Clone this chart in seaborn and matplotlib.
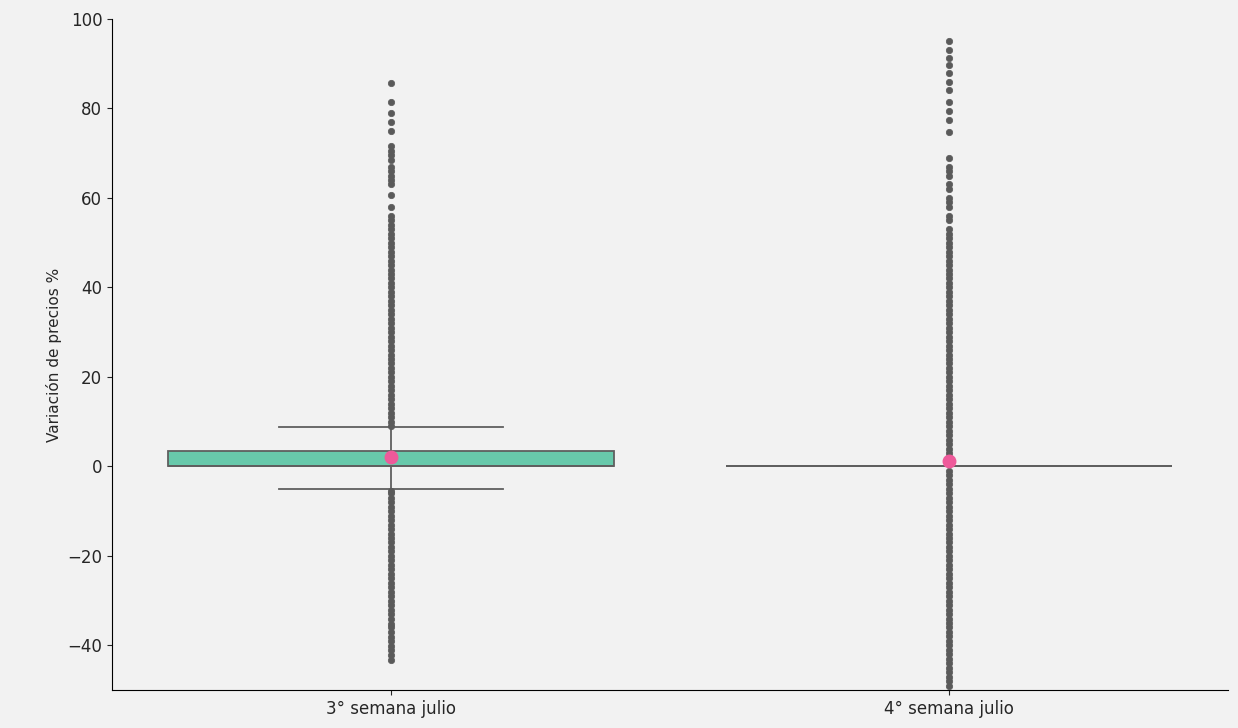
import numpy as np
import pandas as pd
import matplotlib
matplotlib.use("Agg")
import matplotlib.pyplot as plt
import seaborn as sns

# categories
semanas = ["3° semana julio", "4° semana julio"]

# 3rd week: core values (with counts) and outliers
core_3_vals = [-5.1, -2.5, 0.0, 1.5, 3.5, 6.0, 8.7]
core_3_counts = [1, 100, 650, 100, 200, 50, 1]
out_3_neg = [-43.3, -42.2, -41.0, -40.1, -39.0, -38.2, -37.1, -36.0, -35.2, -34.0,
             -33, -32, -31, -30, -29, -28, -27, -26, -25, -24, -23, -22, -21, -20,
             -19, -18, -17, -16, -15, -14, -13, -12, -11, -10, -9, -8, -7, -6, -5.4]
out_3_pos = [9, 10, 11, 12, 13, 14, 15, 16, 17, 18, 19, 20, 21, 22, 23, 24, 25, 26,
             27, 28, 29, 30, 31, 32, 33, 34, 35, 36, 37, 38, 39, 40, 41, 42, 43, 44,
             45, 46, 47, 48, 49, 50, 51, 52, 53, 54, 55, 56,
             58, 60.6, 63, 64, 65, 66, 67, 68.5, 69.5, 70.5, 71.5, 75, 77, 78.9, 81.5, 85.7]

# 4th week: box collapses on zero, everything else is an outlier
core_4_vals = [0.0]
core_4_counts = [1200]
out_4_neg = [-58, -52, -49, -48, -47, -46, -45, -44, -43, -42, -41, -40, -39, -38,
             -37, -36, -35, -34, -33, -32, -31, -30, -29, -28, -27, -26, -25, -24,
             -23, -22, -21, -20, -19, -18, -17, -16, -15, -14, -13, -12, -11, -10,
             -9, -8, -7, -6, -5, -4, -3, -2, -1]
out_4_pos = [1, 2, 3, 4, 5, 6, 7, 8, 9, 10, 11, 12, 13, 14, 15, 16, 17, 18, 19, 20,
             21, 22, 23, 24, 25, 26, 27, 28, 29, 30, 31, 32, 33, 34, 35, 36, 37, 38,
             39, 40, 41, 42, 43, 44, 45, 46, 47, 48, 49, 50, 51, 52, 53,
             55, 56, 58, 59, 60, 62, 63, 65, 66, 67, 69,
             74.7, 77.5, 79.5, 81.4, 84.1, 86, 87.9, 89.7, 91.3, 93, 95]

sem3 = np.concatenate([np.repeat(core_3_vals, core_3_counts), out_3_neg, out_3_pos])
sem4 = np.concatenate([np.repeat(core_4_vals, core_4_counts), out_4_neg, out_4_pos])

df = pd.DataFrame({
    "semana": [semanas[0]] * len(sem3) + [semanas[1]] * len(sem4),
    "variacion": np.concatenate([sem3, sem4]),
})

bg = "#f2f2f2"
plt.rcParams["font.family"] = "DejaVu Sans"
plt.rcParams["figure.facecolor"] = bg
plt.rcParams["axes.facecolor"] = bg
plt.rcParams["text.color"] = "#262626"
plt.rcParams["axes.labelcolor"] = "#262626"
plt.rcParams["xtick.color"] = "#262626"
plt.rcParams["ytick.color"] = "#262626"

fig, ax = plt.subplots(figsize=(12.38, 7.28), dpi=100)
fig.subplots_adjust(left=0.0905, right=0.992, top=0.974, bottom=0.052)

sns.boxplot(data=df, x="semana", y="variacion", ax=ax,
            color="#68c9ab", saturation=1, width=0.8, linewidth=1.3,
            linecolor="#5f5f5f", fliersize=4.6,
            showmeans=True,
            meanprops={"marker": "o", "markerfacecolor": "#ee5a9a",
                       "markeredgecolor": "#ee5a9a", "markersize": 9},
            flierprops={"marker": "o", "markerfacecolor": "#5a5a5a",
                        "markeredgecolor": "#5a5a5a", "markeredgewidth": 0.5})

ax.set_ylim(-50, 100)
ax.set_xlabel("")
ax.set_ylabel("Variación de precios %", fontsize=11)
ax.tick_params(labelsize=12)
sns.despine(ax=ax)

plt.savefig("out.png", dpi=100, facecolor=bg)
